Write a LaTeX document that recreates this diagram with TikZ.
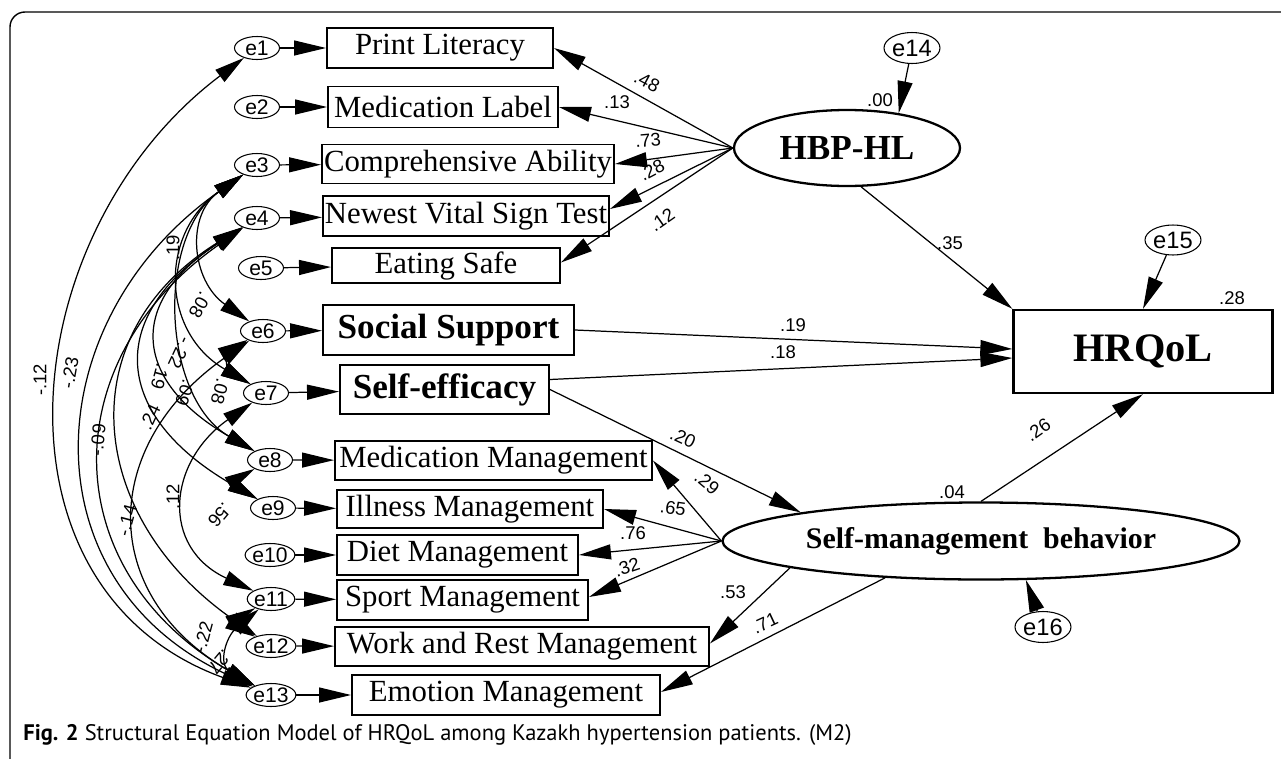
\documentclass[tikz,border=0pt]{standalone}
\usepackage{fontspec}
\setmainfont{Liberation Serif}
\newfontfamily\arialfont{Liberation Sans}
\newfontfamily\capfont{PT Sans}
\usetikzlibrary{arrows.meta}
\usetikzlibrary{shapes.geometric}

\begin{document}
\begin{tikzpicture}[scale = 1,
		obs/.style = {draw, line width = 1.1pt, inner sep = 0pt, font = \fontsize{17.5}{19}\selectfont},
		obsb/.style = {obs, font = \bfseries\fontsize{20}{22}\selectfont},
		err/.style = {ellipse, draw, line width = 0.6pt, inner sep = 0pt, minimum width = 0.9cm, minimum height = 0.46cm, font = \arialfont\fontsize{12}{12}\selectfont},
		errb/.style = {err, minimum width = 1.12cm, minimum height = 0.62cm, font = \arialfont\fontsize{13.5}{14}\selectfont},
		lat/.style = {ellipse, draw, line width = 1.3pt, inner sep = 0pt},
		reg/.style = {-{Triangle[length = 6.4mm, width = 3mm]}, line width = 0.7pt},
		cov/.style = {{Triangle[length = 6mm, width = 3mm]}-{Triangle[length = 6mm, width = 3mm]}, line width = 0.7pt},
		num/.style = {inner sep = 0pt, font = \arialfont\fontsize{10.5}{11}\selectfont}]
			\useasboundingbox (0,0) rectangle (25.62,-15.18);
			\draw[line width = 0.8pt, rounded corners = 0.3cm] (25.62,-0.24) -- (0.2,-0.24) -- (0.2,-15.18);

			\node (e1) at (5.14,-0.96) [err] {e1};
			\node (e2) at (5.14,-2.14) [err] {e2};
			\node (e3) at (5.14,-3.30) [err] {e3};
			\node (e4) at (5.14,-4.36) [err] {e4};
			\node (e5) at (5.22,-5.36) [err] {e5};
			\node (e6) at (5.26,-6.62) [err] {e6};
			\node (e7) at (5.32,-7.86) [err] {e7};
			\node (e8) at (5.40,-9.20) [err] {e8};
			\node (e9) at (5.46,-10.16) [err] {e9};
			\node (e10) at (5.40,-11.10) [err] {e10};
			\node (e11) at (5.42,-11.98) [err] {e11};
			\node (e12) at (5.42,-12.92) [err] {e12};
			\node (e13) at (5.42,-13.90) [err] {e13};

			\node (pl) at (8.80,-0.96) [obs, minimum width = 4.52cm, minimum height = 0.80cm] {Print Literacy};
			\node (ml) at (8.86,-2.14) [obs, minimum width = 4.60cm, minimum height = 0.82cm] {Medication Label};
			\node (ca) at (9.36,-3.28) [obs, minimum width = 5.84cm, minimum height = 0.78cm] {Comprehensive Ability};
			\node (nv) at (9.32,-4.32) [obs, minimum width = 5.72cm, minimum height = 0.80cm] {Newest Vital Sign Test};
			\node (es) at (8.92,-5.31) [obs, minimum width = 4.56cm, minimum height = 0.70cm] {Eating Safe};
			\node (ss) at (8.97,-6.60) [obsb, minimum width = 5.02cm, minimum height = 1.00cm] {Social Support};
			\node (se) at (8.89,-7.79) [obsb, minimum width = 4.18cm, minimum height = 0.98cm] {Self-efficacy};
			\node (mm) at (9.87,-9.21) [obs, minimum width = 6.34cm, minimum height = 0.78cm] {Medication Management};
			\node (im) at (9.40,-10.18) [obs, minimum width = 5.32cm, minimum height = 0.76cm] {Illness Management};
			\node (dm) at (9.15,-11.10) [obs, minimum width = 4.82cm, minimum height = 0.80cm] {Diet Management};
			\node (sm) at (9.25,-12.00) [obs, minimum width = 5.02cm, minimum height = 0.80cm] {Sport Management};
			\node (wr) at (10.44,-12.93) [obs, minimum width = 7.48cm, minimum height = 0.78cm] {Work and Rest Management};
			\node (em) at (10.12,-13.90) [obs, minimum width = 6.16cm, minimum height = 0.80cm] {Emotion Management};

			\node (hbp) at (16.94,-2.96) [lat, minimum width = 4.52cm, minimum height = 1.52cm, font = \bfseries\fontsize{20}{22}\selectfont] {HBP-HL};
			\node (hrq) at (22.86,-7.03) [obs, line width = 1.3pt, minimum width = 5.18cm, minimum height = 1.66cm, font = \bfseries\fontsize{23}{25}\selectfont] {HRQoL};
			\node (smb) at (19.62,-10.82) [lat, minimum width = 10.34cm, minimum height = 1.54cm, font = \bfseries\fontsize{17}{19}\selectfont] {Self-management\ \ behavior};
			\node (e14) at (18.24,-0.96) [errb] {e14};
			\node (e15) at (23.46,-4.80) [errb, minimum height = 0.60cm] {e15};
			\node (e16) at (20.86,-12.54) [errb] {e16};

			\draw[reg] (e1) -- (pl);
			\draw[reg] (e2) -- (ml);
			\draw[reg] (e3) -- (ca);
			\draw[reg] (e4) -- (nv);
			\draw[reg] (e5) -- (es);
			\draw[reg] (e6) -- (ss);
			\draw[reg] (e7) -- (se);
			\draw[reg] (e8) -- (mm);
			\draw[reg] (e9) -- (im);
			\draw[reg] (e10) -- (dm);
			\draw[reg] (e11) -- (sm);
			\draw[reg] (e12) -- (wr);
			\draw[reg] (e13) -- (em);

			\draw[reg] (hbp.west) -- (pl.east);
			\draw[reg] (hbp.west) -- (ml.east);
			\draw[reg] (hbp.west) -- (ca.east);
			\draw[reg] (hbp.west) -- ([yshift = 0.14cm]nv.east);
			\draw[reg] (hbp.west) -- ([yshift = 0.06cm]es.east);
			\draw[reg] (hbp.290) -- (hrq.north west);
			\draw[reg] (e14) -- (hbp.34);
			\draw[reg] (e15) -- (hrq.north);
			\draw[reg] (e16) -- (smb.-41);
			\draw[reg] (ss.east) -- ([yshift = 0.05cm]hrq.west);
			\draw[reg] ([yshift = 0.2cm]se.east) -- ([yshift = -0.13cm]hrq.west);
			\draw[reg] (se.east) -- (smb.171);
			\draw[reg] (smb.north) -- (hrq.south);
			\draw[reg] (smb.west) -- (mm.east);
			\draw[reg] (smb.west) -- (im.east);
			\draw[reg] (smb.west) -- (dm.east);
			\draw[reg] (smb.west) -- ([yshift = 0.06cm]sm.east);
			\draw[reg] (smb.188) -- ([yshift = 0.06cm]wr.east);
			\draw[reg] (smb.201) -- ([yshift = 0.06cm]em.east);

			\draw[cov] (e1) to[out = 217, in = 160, looseness = 1.17] (e13);
			\draw[cov] (e3) to[out = 215, in = 155, looseness = 1.26] (e13);
			\draw[cov] (e4) to[out = 215, in = 150, looseness = 1.29] (e13);
			\draw[cov] (e4) to[out = 212, in = 145, looseness = 1.29] (e12);
			\draw[cov] (e6) to[out = 215, in = 150, looseness = 1.35] (e13);
			\draw[cov] (e7) to[out = 215, in = 155, looseness = 1.40] (e11);
			\draw[cov] (e11) to[out = 220, in = 150, looseness = 1.43] (e13);
			\draw[cov] (e3) to[out = 215, in = 145, looseness = 1.23] (e6);
			\draw[cov] (e3) to[out = 215, in = 150, looseness = 1.26] (e7);
			\draw[cov] (e3) to[out = 215, in = 150, looseness = 0.99] (e8);
			\draw[cov] (e4) to[out = 213, in = 150, looseness = 1.59] (e8);
			\draw[cov] (e4) to[out = 213, in = 150, looseness = 1.56] (e9);
			\draw[cov] (e6) to[out = 210, in = 150, looseness = 1.45] (e7);
			\draw[cov] (e8) to[out = 210, in = 150, looseness = 1.5] (e9);
			\draw[cov] (e11) to[out = 210, in = 150, looseness = 1.5] (e12);

			\node (n48) at (12.94,-1.64) [num, rotate = -28] {.48};
			\node (n13) at (12.34,-2.04) [num] {.13};
			\node (n73) at (12.96,-2.80) [num, rotate = 5] {.73};
			\node (n28a) at (13.04,-3.40) [num, rotate = 28] {.28};
			\node (n12a) at (13.24,-4.40) [num, rotate = 35] {.12};
			\node (n00) at (17.60,-2.00) [num] {.00};
			\node (n35) at (19.00,-4.86) [num] {.35};
			\node (n28b) at (24.64,-5.96) [num] {.28};
			\node (n19a) at (15.86,-6.50) [num] {.19};
			\node (n18) at (15.66,-7.04) [num] {.18};
			\node (n20) at (13.66,-8.76) [num, rotate = -25] {.20};
			\node (n29) at (14.14,-9.66) [num, rotate = -40] {.29};
			\node (n65) at (13.46,-10.16) [num, rotate = -8] {.65};
			\node (n76) at (12.66,-10.66) [num] {.76};
			\node (n32) at (12.54,-11.34) [num, rotate = 18] {.32};
			\node (n53) at (14.66,-11.84) [num] {.53};
			\node (n71) at (15.30,-12.46) [num, rotate = 25] {.71};
			\node (n04) at (19.04,-9.84) [num] {.04};
			\node (n26) at (20.76,-8.60) [num, rotate = 35] {.26};

			\node (c1) at (0.80,-7.60) [num, rotate = 90] {-.12};
			\node (c2) at (1.40,-7.46) [num, rotate = 80] {-.23};
			\node (c3) at (1.96,-8.80) [num, rotate = 85] {-.09};
			\node (c4) at (3.00,-8.34) [num, rotate = 65] {.24};
			\node (c5) at (2.54,-10.40) [num, rotate = 75] {-.14};
			\node (c6) at (3.46,-9.94) [num, rotate = 90] {.12};
			\node (c7) at (4.06,-12.74) [num, rotate = 75] {-.22};
			\node (c8) at (4.40,-13.24) [num, rotate = 230] {.27};
			\node (c9) at (4.40,-10.30) [num, rotate = 230] {.56};
			\node (c10) at (3.46,-4.96) [num, rotate = 90] {.19};
			\node (c11) at (4.00,-6.10) [num, rotate = 240] {.08};
			\node (c12) at (3.60,-7.06) [num, rotate = 245] {-.22};
			\node (c13) at (3.20,-7.54) [num, rotate = 255] {.19};
			\node (c14) at (3.70,-7.86) [num, rotate = 250] {.09};
			\node (c15) at (4.40,-7.84) [num, rotate = 255] {.08};

			\node (cap) at (0.46,-14.70) [anchor = west, inner sep = 0pt, font = \capfont\fontsize{12.8}{15}\selectfont] {\textbf{Fig. 2} Structural Equation Model of HRQoL among Kazakh hypertension patients. (M2)};
			\end{tikzpicture}
\end{document}
